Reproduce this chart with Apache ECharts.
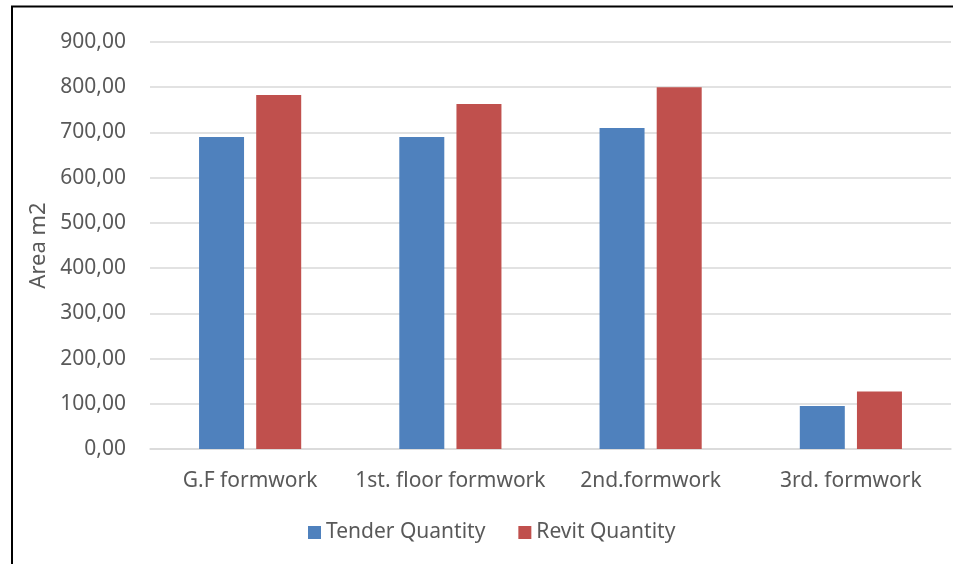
<!DOCTYPE html>
<html><head><meta charset="utf-8">
<script src="https://cdn.jsdelivr.net/npm/echarts@6/dist/echarts.min.js"></script>
<style>html,body{margin:0;padding:0;background:#fff;}#c{width:954px;height:564px;}</style>
</head><body><div id="c"></div>
<script>
const categories = ['G.F formwork', '1st. floor formwork', '2nd.formwork', '3rd. formwork'];
const tenderQuantity = [690, 690, 710, 95];
const revitQuantity = [783, 763, 800, 127];
const seriesNames = ['Tender Quantity', 'Revit Quantity'];
const yAxisName = 'Area m2';

const chart = echarts.init(document.getElementById('c'), null, {renderer: 'canvas'});
const font = '"Noto Sans", "Open Sans", sans-serif';
chart.setOption({
  animation: false,
  backgroundColor: '#fff',
  graphic: [{
    type: 'polyline', z: 100,
    shape: {points: [[12, 600], [12, 6.5], [953, 6.5]]},
    style: {stroke: '#000', lineWidth: 2, fill: null}
  }],
  legend: {
    data: seriesNames, bottom: 16, left: 303,
    itemWidth: 13, itemHeight: 13, itemGap: 33,
    icon: 'rect',
    textStyle: {fontFamily: font, fontSize: 21, color: '#595959'}
  },
  grid: {left: 150, right: 3, top: 42, bottom: 115, containLabel: false},
  xAxis: {
    type: 'category', data: categories,
    axisLine: {show: true, lineStyle: {color: '#D9D9D9', width: 1.5}},
    axisTick: {show: false},
    axisLabel: {fontFamily: font, fontSize: 21, color: '#595959', margin: 22, interval: 0}
  },
  yAxis: {
    type: 'value', min: 0, max: 900, interval: 100,
    name: yAxisName, nameLocation: 'middle', nameGap: 100, nameRotate: 90,
    nameTextStyle: {fontFamily: font, fontSize: 22, color: '#595959'},
    axisLine: {show: false}, axisTick: {show: false},
    axisLabel: {fontFamily: font, fontSize: 21, color: '#595959', margin: 24,
      formatter: v => v.toFixed(2).replace('.', ',')},
    splitLine: {lineStyle: {color: '#D9D9D9', width: 1.5}}
  },
  series: [
    {name: seriesNames[0], type: 'bar', data: tenderQuantity, barWidth: 45, barGap: '27%',
     itemStyle: {color: '#4F81BD'}},
    {name: seriesNames[1], type: 'bar', data: revitQuantity, barWidth: 45,
     itemStyle: {color: '#C0504D'}}
  ]
});
</script></body></html>
